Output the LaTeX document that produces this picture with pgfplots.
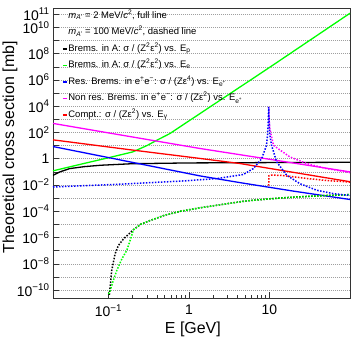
\documentclass[border=0pt]{standalone}
\usepackage{fontspec}
\setmainfont{Liberation Sans}
\usepackage{pgfplots}
\pgfplotsset{compat=1.18}
\definecolor{rgreen}{RGB}{0,255,0}
\definecolor{rblue}{RGB}{0,0,255}
\definecolor{rmag}{RGB}{255,0,255}
\definecolor{rred}{RGB}{255,0,0}
\tikzset{
  fl/.style={line width=1.3bp},
  dl/.style={line width=1.5bp, dash pattern=on 1.5bp off 1.5bp},
}
\newcommand{\tsup}[1]{\textsuperscript{#1}}
\newcommand{\tsub}[1]{\textsubscript{#1}}
\begin{document}
\begin{tikzpicture}
\begin{axis}[
  scale only axis, width=297bp, height=290bp,
  xmode=log, ymode=log,
  xmin=0.0205, xmax=100, ymin=2.5e-11, ymax=3e11,
  axis line style={black!80, line width=0.9bp},
  tick align=inside, xtick pos=bottom, ytick pos=left,
  tick style={black!80, line width=0.6bp},
  major tick length=6bp, minor tick length=3.5bp,
  xtick={0.1,1,10}, xticklabels={10\tsup{−1},1,10},
  ytick={1e-10,1e-9,1e-8,1e-7,1e-6,1e-5,1e-4,1e-3,1e-2,1e-1,1,10,1e2,1e3,1e4,1e5,1e6,1e7,1e8,1e9,1e10,1e11},
  yticklabels={10\tsup{−10},,10\tsup{−8},,10\tsup{−6},,10\tsup{−4},,10\tsup{−2},,1,,10\tsup{2},,10\tsup{4},,10\tsup{6},,10\tsup{8},,10\tsup{10},10\tsup{11}},
  yminorticks=false,
  ymajorgrids, grid style={gray!75, line width=0.6bp, dash pattern=on 0.8bp off 1.2bp},
  ticklabel style={font=\fontsize{14}{16}\selectfont},
  xticklabel style={yshift=-3bp},
  xlabel={E [GeV]}, ylabel={Theoretical cross section [mb]},
  label style={font=\fontsize{16}{18}\selectfont},
  xlabel style={at={(axis description cs:0.471,-0.107)}, anchor=center},
  ylabel style={at={(axis description cs:-0.145,0.52)}, anchor=center},
  legend cell align=left,
  legend image code/.code={\draw[#1] (0bp,0bp) -- (4bp,0bp);},
  legend style={draw=none, fill=none, at={(axis description cs:0.03,0.993)}, anchor=north west,
    font=\fontsize{9.5}{11}\selectfont, row sep=5bp, inner sep=0bp,
    nodes={inner sep=1bp, text height=7bp, text depth=2.5bp}},
]
\addlegendimage{empty legend}
\addlegendentry{\textit{m}\tsub{\textit{A'}} = 2 MeV/\textit{c}\tsup{2}, full line}
\addlegendimage{empty legend}
\addlegendentry{\textit{m}\tsub{\textit{A'}} = 100 MeV/\textit{c}\tsup{2}, dashed line}
\addlegendimage{black, fl}
\addlegendentry{Brems. in A: σ / (Z\tsup{2}ε\tsup{2}) vs. E\tsub{p}}
\addlegendimage{rgreen, fl}
\addlegendentry{Brems. in A: σ / (Z\tsup{2}ε\tsup{2}) vs. E\tsub{e}}
\addlegendimage{rblue, fl}
\addlegendentry{Res. Brems. in e\tsup{+}e\tsup{−}: σ / (Zε\tsup{4}) vs. E\tsub{e\tsup{+}}}
\addlegendimage{rmag, fl}
\addlegendentry{Non res. Brems. in e\tsup{+}e\tsup{−}: σ / (Zε\tsup{2}) vs. E\tsub{e\tsup{+}}}
\addlegendimage{rred, fl}
\addlegendentry{Compt.: σ / (Zε\tsup{2}) vs. E\tsub{γ}}

% m = 2 MeV, full lines
\addplot[black, fl, forget plot] coordinates {
(0.0205,0.055) (0.025,0.10) (0.033,0.178) (0.05,0.25) (0.08,0.32) (0.2,0.42) (1,0.48) (10,0.51) (100,0.54)};
\addplot[rgreen, fl, forget plot] coordinates {
(0.0205,0.12) (0.05,0.44) (0.1,1.19) (0.2,3.3) (0.3,10) (0.4,25.7) (0.58,83) (1.38,2818) (10,8.9e6) (100,1.2e11)};
\addplot[rblue, fl, forget plot] coordinates {
(0.0205,8.5) (0.1,1.23) (0.5,0.17) (1.38,0.049) (4.33,0.0151) (20,0.0034) (100,7.9e-4)};
\addplot[rmag, fl, forget plot] coordinates {
(0.0205,490) (0.16,57) (1.38,6.0) (10,0.91) (100,0.1)};
\addplot[rred, fl, forget plot] coordinates {
(0.0205,27.5) (0.2,4.57) (1.38,1.05) (4.33,0.43) (20,0.091) (100,0.0178)};

% m = 100 MeV, dashed lines
\addplot[black, dl, forget plot] coordinates {
(0.1005,5e-11) (0.103,5e-11) (0.110,3.2e-9) (0.121,5.8e-8) (0.133,2.5e-7) (0.154,7.9e-7) (0.205,4e-6) (0.25,1e-5) (0.33,2e-5) (0.5,5e-5) (0.78,1e-4) (1.5,2e-4) (3,3.8e-4) (5,6e-4) (10,8.9e-4) (20,1.2e-3) (50,1.58e-3) (100,1.86e-3)};
\addplot[rgreen, dl, forget plot] coordinates {
(0.1005,5e-11) (0.105,9e-11) (0.115,5.4e-10) (0.127,3.1e-9) (0.147,2.4e-8) (0.169,1.05e-7) (0.186,6e-7) (0.205,4e-6) (0.25,1e-5) (0.33,2e-5) (0.5,5e-5) (0.78,1e-4) (1.5,2e-4) (3,3.8e-4) (5,6e-4) (10,8.9e-4) (20,1.2e-3) (50,1.58e-3) (100,1.86e-3)};
\addplot[rmag, dl, forget plot] coordinates {
(9.78,8900) (9.9,1000) (10.1,200) (11.2,10.7) (13.6,4.5) (17.9,1.38) (29,0.43) (51,0.178) (100,0.089)};
\addplot[rblue, dl, forget plot] coordinates {
(0.0205,0.0071) (0.127,0.0112) (0.855,0.0204) (2.22,0.031) (4.73,0.063) (6.3,0.178) (8.0,1) (9.2,10.7) (9.45,63) (9.65,631) (9.78,8900) (9.92,631) (10.1,63) (10.6,10.7) (12.3,0.575) (16.4,0.055) (23.9,0.0126) (38.6,0.004) (62.2,0.0022) (100,0.0016)};
\addplot[rred, dl, forget plot] coordinates {
(9.78,0.0089) (9.85,0.05) (10.5,0.056) (13.6,0.055) (20,0.042) (29,0.0316) (50,0.0224) (100,0.0166)};
\end{axis}
\pgfresetboundingbox
\path ([shift={(-53bp,-45bp)}]current axis.south west) rectangle ([shift={(5bp,8bp)}]current axis.north east);
\end{tikzpicture}
\end{document}
